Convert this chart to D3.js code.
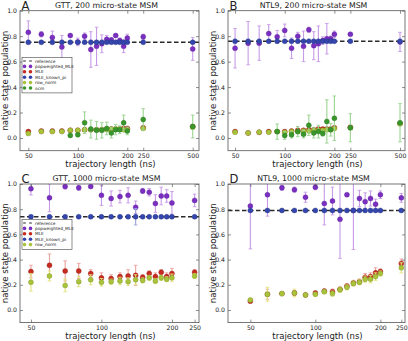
<!DOCTYPE html>
<html>
  <head>
    <meta charset="utf-8" />
    <title>native state population</title>
    <script src="https://cdn.jsdelivr.net/npm/d3@7"></script>
    <style type="text/css">
      body { margin: 0; background: #fff; }
      text { font-family: "DejaVu Sans", sans-serif; fill: #222; }
    </style>
  </head>

  <body>
    <svg id="fig" width="408" height="341"></svg>
    <script type="text/javascript">
      // trajectory lengths (ns)
      var lengths200 = [50, 60, 70, 80, 90, 100, 110, 120, 130, 140, 150, 160, 170, 180, 190, 200, 250, 500];
      var lengths1000 = [50, 60, 70, 80, 90, 100, 110, 120, 130, 140, 150, 160, 170, 180, 190, 200, 250];
      var ticks200 = [50, 100, 200, 250, 500];
      var ticks1000 = [50, 100, 200, 250];
      var yTicks = [0.0, 0.2, 0.4, 0.6, 0.8, 1.0];

      // A: GTT, 200 micro-states
      var gtt200Ref = 0.752;
      var gtt200Pop = [0.83, 0.815, 0.79, 0.715, 0.805, 0.755, 0.8, 0.695, 0.72, 0.74, 0.775, 0.77, 0.805, 0.765, 0.72, 0.785, 0.795, 0.7];
      var gtt200PopErr = [0.09, 0.02, 0.05, 0.09, 0.01, 0.03, 0.025, 0.14, 0.15, 0.07, 0.03, 0.02, 0.01, 0.02, 0.05, 0.03, 0.02, 0.09];
      var gtt200Mle = [0.05, 0.055, 0.055, 0.055, 0.06, 0.06, 0.065, 0.065, 0.065, 0.065, 0.07, 0.07, 0.07, 0.07, 0.075, 0.075, 0.08, 0.09];
      var gtt200Row = [0.035, 0.05, 0.05, 0.05, 0.06, 0.06, 0.065, 0.065, 0.065, 0.065, 0.065, 0.07, 0.07, 0.07, 0.065, 0.065, 0.075, 0.085];
      var gtt200Ocm = [null, null, null, null, 0.02, 0.025, 0.12, 0.07, 0.06, 0.06, 0.075, 0.04, 0.065, 0.065, 0.12, 0.055, 0.145, 0.09];
      var gtt200OcmErr = [0, 0, 0, 0, 0.01, 0.01, 0.085, 0.07, 0.07, 0.06, 0.05, 0.04, 0.04, 0.03, 0.06, 0.03, 0.085, 0.09];

      // B: NTL9, 200 micro-states
      var ntl200Ref = 0.76;
      var ntl200Pop = [0.705, 0.745, 0.745, 0.82, 0.795, 0.845, 0.705, 0.8, 0.72, 0.85, 0.725, 0.74, 0.765, 0.78, 0.78, 0.815, 0.815, 0.755];
      var ntl200PopErr = [0.155, 0.17, 0.135, 0.07, 0.05, 0.05, 0.08, 0.03, 0.12, 0.02, 0.11, 0.14, 0.03, 0.12, 0.02, 0.025, 0.01, 0.075];
      var ntl200Mle = [0.05, 0.04, 0.045, 0.05, 0.05, 0.05, 0.055, 0.06, 0.06, 0.065, 0.065, 0.07, 0.07, 0.07, 0.07, 0.08, 0.085, 0.115];
      var ntl200Row = [0.045, 0.04, 0.045, 0.045, 0.05, 0.045, 0.05, 0.05, 0.055, 0.055, 0.06, 0.06, 0.06, 0.065, 0.065, 0.075, 0.08, 0.11];
      var ntl200Ocm = [null, null, null, null, 0.05, 0.02, 0.025, 0.05, 0.03, 0.1, 0.04, 0.05, 0.035, 0.13, 0.065, 0.155, 0.08, 0.12];
      var ntl200OcmErr = [0, 0, 0, 0, 0.06, 0.03, 0.025, 0.04, 0.03, 0.08, 0.04, 0.05, 0.02, 0.17, 0.05, 0.175, 0.11, 0.15];

      // C: GTT, 1000 micro-states
      var gtt1000Ref = 0.74;
      var gtt1000Pop = [0.963, 0.89, 0.98, 0.97, 0.98, 0.91, 0.885, 0.9, 0.91, 0.815, 0.945, 0.935, 0.845, 0.905, 0.905, 0.85, 0.87];
      var gtt1000PopErr = [0.05, 0.11, 0.02, 0.02, 0.01, 0.08, 0.06, 0.05, 0.06, 0.05, 0.02, 0.03, 0.07, 0.07, 0.05, 0.09, 0.05];
      var gtt1000Mle = [0.305, 0.355, 0.31, 0.31, 0.29, 0.255, 0.25, 0.265, 0.27, 0.275, 0.26, 0.29, 0.265, 0.3, 0.265, 0.29, 0.3];
      var gtt1000MleErr = [0.05, 0.09, 0.08, 0.06, 0.03, 0.04, 0.03, 0.03, 0.05, 0.08, 0.02, 0.02, 0.03, 0.02, 0.03, 0.04, 0.02];
      var gtt1000KnownErr = [0.005, 0.005, 0.005, 0.005, 0.005, 0.005, 0.005, 0.005, 0.005, 0.065, 0.005, 0.005, 0.005, 0.005, 0.005, 0.005, 0.005];
      var gtt1000Row = [0.22, 0.27, 0.195, 0.225, 0.24, 0.22, 0.225, 0.23, 0.225, 0.24, 0.235, 0.255, 0.23, 0.255, 0.245, 0.255, 0.27];
      var gtt1000RowErr = [0.07, 0.04, 0.05, 0.04, 0.04, 0.03, 0.02, 0.03, 0.03, 0.04, 0.02, 0.02, 0.02, 0.02, 0.02, 0.03, 0.02];

      // D: NTL9, 1000 micro-states
      var ntl1000Ref = 0.79;
      var ntl1000Pop = [0.825, 0.915, 0.97, 0.955, 0.895, 0.975, 0.845, 0.865, 0.72, 0.915, 0.79, 0.885, 0.86, 0.885, 0.84, 0.915, 0.89];
      var ntl1000PopErr = [0.34, 0.17, 0.02, 0.02, 0.04, 0.02, 0.17, 0.11, 0.31, 0.01, 0.31, 0.065, 0.07, 0.06, 0.04, 0.03, 0.035];
      var ntl1000Mle = [0.07, 0.125, 0.13, 0.135, 0.12, 0.135, 0.15, 0.145, 0.165, 0.19, 0.215, 0.225, 0.26, 0.265, 0.295, 0.305, 0.37];
      var ntl1000MleErr = [0.01, 0.04, 0.01, 0.02, 0.01, 0.015, 0.015, 0.02, 0.015, 0.015, 0.02, 0.02, 0.03, 0.03, 0.04, 0.02, 0.035];
      var ntl1000Row = [0.08, 0.125, 0.13, 0.135, 0.12, 0.125, 0.145, 0.13, 0.16, 0.18, 0.21, 0.22, 0.245, 0.245, 0.265, 0.29, 0.335];
      var ntl1000RowErr = [0.01, 0.055, 0.015, 0.03, 0.01, 0.015, 0.015, 0.02, 0.02, 0.02, 0.02, 0.02, 0.025, 0.03, 0.03, 0.02, 0.04];

      var colors = {
        pop: ['#7b2fc2', '#c79be6'],
        mle: ['#c62a20', '#eba29c'],
        known: ['#3446ad', '#9aa6dc'],
        row: ['#a9c43a', '#e2e27a'],
        ocm: ['#38962b', '#9ad48f']
      };

      var svg = d3.select('#fig');

      function zeros(n, v) {
        return d3.range(n).map(() => v || 0);
      }

      function drawPanel(p) {
        var g = svg.append('g');
        var scX = d3.scaleLog().domain(p.xDomain).range([p.left, p.right]);
        var scY = d3.scaleLinear().domain([-0.1, 1.0]).range([p.bottom, p.top]);

        var clipId = 'clip' + p.letter;
        svg.append('clipPath').attr('id', clipId)
          .append('rect')
          .attr('x', p.left).attr('y', p.top)
          .attr('width', p.right - p.left).attr('height', p.bottom - p.top);

        var plot = g.append('g').attr('clip-path', 'url(#' + clipId + ')');

        // reference dashed line
        plot.append('line')
          .attr('x1', p.left).attr('x2', p.right)
          .attr('y1', scY(p.ref)).attr('y2', scY(p.ref))
          .attr('stroke', '#2a2a2a').attr('stroke-width', 1.4)
          .attr('stroke-dasharray', '4.5,2.5');

        p.series.forEach(function (s) {
          var pts = p.xs.map((x, i) => ({ x: x, y: s.values[i], e: s.errs[i] }))
            .filter((d) => d.y != null);
          var col = colors[s.key];
          var sg = plot.append('g');
          // error bars
          pts.filter((d) => d.e > 0).forEach(function (d) {
            var cx = scX(d.x);
            sg.append('line')
              .attr('x1', cx).attr('x2', cx)
              .attr('y1', scY(d.y - d.e)).attr('y2', scY(d.y + d.e))
              .attr('stroke', col[1]).attr('stroke-width', 1.1);
            [d.y - d.e, d.y + d.e].forEach(function (v) {
              sg.append('line')
                .attr('x1', cx - 1.8).attr('x2', cx + 1.8)
                .attr('y1', scY(v)).attr('y2', scY(v))
                .attr('stroke', col[1]).attr('stroke-width', 0.9);
            });
          });
          sg.selectAll('circle')
            .data(pts)
            .enter()
            .append('circle')
            .attr('r', 2.5)
            .attr('cx', (d) => scX(d.x))
            .attr('cy', (d) => scY(d.y))
            .attr('fill', col[0])
            .attr('stroke', d3.color(col[0]).darker(0.8))
            .attr('stroke-width', 0.4);
        });

        // axes, ticks inward on all sides
        var tickFmt = (d) => String(d);
        var axB = d3.axisBottom(scX).tickValues(p.xTicks).tickFormat(tickFmt).tickSizeInner(-3).tickSizeOuter(0).tickPadding(3);
        var axT = d3.axisTop(scX).tickValues(p.xTicks).tickFormat('').tickSizeInner(-3).tickSizeOuter(0);
        var axL = d3.axisLeft(scY).tickValues(yTicks).tickFormat(d3.format('.1f')).tickSizeInner(-3).tickSizeOuter(0).tickPadding(3);
        var axR = d3.axisRight(scY).tickValues(yTicks).tickFormat('').tickSizeInner(-3).tickSizeOuter(0);

        [
          [axB, 'translate(0,' + p.bottom + ')'],
          [axT, 'translate(0,' + p.top + ')'],
          [axL, 'translate(' + p.left + ',0)'],
          [axR, 'translate(' + p.right + ',0)']
        ].forEach(function (a) {
          var ga = g.append('g').attr('transform', a[1]).call(a[0]);
          ga.select('.domain').remove();
          ga.selectAll('line').attr('stroke', '#444').attr('stroke-width', 0.6);
          ga.selectAll('text').style('font-size', '6.2px').attr('fill', '#333')
            .style('font-family', '"DejaVu Sans", sans-serif');
        });

        g.append('rect')
          .attr('x', p.left).attr('y', p.top)
          .attr('width', p.right - p.left).attr('height', p.bottom - p.top)
          .attr('fill', 'none').attr('stroke', '#555').attr('stroke-width', 0.8);

        // labels
        g.append('text')
          .attr('x', (p.left + p.right) / 2 + 1).attr('y', p.bottom + 16.3)
          .attr('text-anchor', 'middle').style('font-size', '8.5px')
          .text('trajectory length (ns)');
        g.append('text')
          .attr('transform', 'translate(' + (p.left - 12.5) + ',' + ((p.top + p.bottom) / 2) + ') rotate(-90)')
          .attr('text-anchor', 'middle').style('font-size', '8.6px')
          .text('native state population');
        g.append('text')
          .attr('x', (p.left + p.right) / 2 - 3).attr('y', p.top - 3)
          .attr('text-anchor', 'middle').style('font-size', '7.8px')
          .text(p.title);
        g.append('text')
          .attr('x', p.left + 1.5).attr('y', p.top - 1)
          .style('font-size', '11.5px')
          .text(p.letter);

        if (p.legend) drawLegend(g, p.left + 2, p.legendTop, p.legend);
      }

      function drawLegend(g, x0, y0, keys) {
        var names = { pop: 'popweighted_MLE', mle: 'MLE', known: 'MLE_known_pi', row: 'row_norm', ocm: 'ocm' };
        var rowH = 5.4;
        var h = (keys.length + 1) * rowH + 3;
        var lg = g.append('g');
        lg.append('rect')
          .attr('x', x0).attr('y', y0).attr('width', 50).attr('height', h)
          .attr('fill', '#fff').attr('stroke', '#444').attr('stroke-width', 0.6);
        var items = ['reference'].concat(keys);
        items.forEach(function (k, i) {
          var cy = y0 + 3.5 + i * rowH;
          if (k === 'reference') {
            [2.5, 8.5].forEach(function (dx) {
              lg.append('line')
                .attr('x1', x0 + dx - 1.3).attr('x2', x0 + dx + 1.3)
                .attr('y1', cy).attr('y2', cy)
                .attr('stroke', '#222').attr('stroke-width', 1);
            });
          } else {
            [2.5, 8.5].forEach(function (dx) {
              lg.append('circle')
                .attr('cx', x0 + dx).attr('cy', cy).attr('r', 1.8)
                .attr('fill', colors[k][0]);
            });
          }
          lg.append('text')
            .attr('x', x0 + 13).attr('y', cy + 1.5)
            .style('font-size', '4.3px')
            .text(k === 'reference' ? 'reference' : names[k]);
        });
      }

      drawPanel({
        letter: 'A', title: 'GTT, 200 micro-state MSM',
        left: 20, right: 199, top: 10.7, bottom: 150.7,
        xDomain: [44.5, 546], xTicks: ticks200, xs: lengths200, ref: gtt200Ref,
        legend: ['pop', 'mle', 'known', 'row', 'ocm'], legendTop: 57.5,
        series: [
          { key: 'pop', values: gtt200Pop, errs: gtt200PopErr },
          { key: 'mle', values: gtt200Mle, errs: zeros(18, 0.004) },
          { key: 'known', values: zeros(18, gtt200Ref), errs: zeros(18) },
          { key: 'row', values: gtt200Row, errs: zeros(18, 0.004) },
          { key: 'ocm', values: gtt200Ocm, errs: gtt200OcmErr }
        ]
      });

      drawPanel({
        letter: 'B', title: 'NTL9, 200 micro-state MSM',
        left: 228, right: 405, top: 10.7, bottom: 150.7,
        xDomain: [45.3, 536], xTicks: ticks200, xs: lengths200, ref: ntl200Ref,
        series: [
          { key: 'pop', values: ntl200Pop, errs: ntl200PopErr },
          { key: 'mle', values: ntl200Mle, errs: zeros(18, 0.004) },
          { key: 'known', values: zeros(18, ntl200Ref), errs: zeros(18) },
          { key: 'row', values: ntl200Row, errs: zeros(18, 0.004) },
          { key: 'ocm', values: ntl200Ocm, errs: ntl200OcmErr }
        ]
      });

      drawPanel({
        letter: 'C', title: 'GTT, 1000 micro-state MSM',
        left: 20, right: 199, top: 184, bottom: 322.6,
        xDomain: [44.9, 261], xTicks: ticks1000, xs: lengths1000, ref: gtt1000Ref,
        legend: ['pop', 'mle', 'known', 'row'], legendTop: 219.5,
        series: [
          { key: 'pop', values: gtt1000Pop, errs: gtt1000PopErr },
          { key: 'mle', values: gtt1000Mle, errs: gtt1000MleErr },
          { key: 'known', values: zeros(17, gtt1000Ref), errs: gtt1000KnownErr },
          { key: 'row', values: gtt1000Row, errs: gtt1000RowErr }
        ]
      });

      drawPanel({
        letter: 'D', title: 'NTL9, 1000 micro-state MSM',
        left: 228, right: 405, top: 184, bottom: 322.6,
        xDomain: [39.4, 260], xTicks: ticks1000, xs: lengths1000, ref: ntl1000Ref,
        series: [
          { key: 'pop', values: ntl1000Pop, errs: ntl1000PopErr },
          { key: 'mle', values: ntl1000Mle, errs: ntl1000MleErr },
          { key: 'known', values: zeros(17, ntl1000Ref), errs: zeros(17) },
          { key: 'row', values: ntl1000Row, errs: ntl1000RowErr }
        ]
      });
    </script>
  </body>
</html>
